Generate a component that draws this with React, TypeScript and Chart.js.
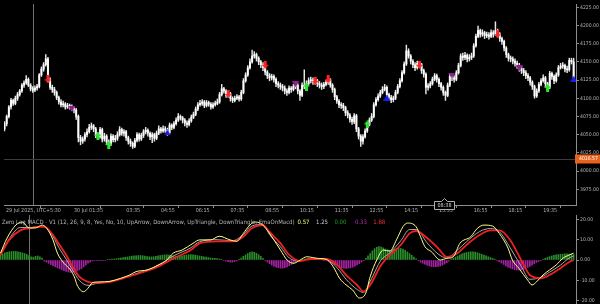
import { useEffect, useRef } from 'react';
import { Chart, registerables } from 'chart.js';
Chart.register(...registerables);

// ---------- price data (M5 bars, index 0 = 29 Jul 22:55) ----------
const firstOpen = 4058;
const closes = [
  4065,4075,4088,4097,4093,4100,4105,4110,4118,4121,
  4126,4118,4113,4111,4114,4116,4132,4140,4146,4154,
  4126,4115,4112,4108,4101,4095,4091,4092,4088,4090,
  4088,4086,4084,4075,4046,4041,4044,4050,4054,4060,
  4062,4058,4050,4047,4057,4044,4048,4040,4037,4048,
  4043,4045,4050,4057,4052,4054,4046,4041,4038,4034,
  4042,4050,4044,4049,4054,4056,4052,4047,4050,4045,
  4052,4058,4055,4058,4056,4053,4063,4060,4065,4070,
  4075,4073,4070,4066,4064,4069,4074,4078,4085,4091,
  4093,4095,4090,4094,4092,4088,4091,4093,4095,4105,
  4113,4110,4104,4106,4100,4097,4100,4102,4099,4108,
  4124,4132,4142,4150,4158,4160,4155,4150,4146,4142,
  4136,4131,4128,4130,4126,4120,4118,4116,4114,4110,
  4108,4114,4112,4116,4118,4110,4104,4118,4116,4120,
  4124,4125,4122,4124,4120,4118,4116,4119,4122,4125,
  4118,4112,4102,4096,4091,4090,4087,4080,4077,4071,
  4068,4076,4058,4048,4041,4047,4055,4064,4070,4075,
  4091,4098,4103,4108,4112,4115,4105,4101,4098,4100,
  4108,4116,4124,4135,4147,4165,4158,4151,4146,4142,
  4148,4146,4138,4133,4115,4117,4120,4126,4131,4126,
  4120,4115,4108,4104,4118,4130,4128,4126,4135,4145,
  4158,4156,4159,4154,4156,4158,4172,4185,4193,4188,
  4190,4186,4187,4185,4190,4188,4193,4188,4182,4178,
  4169,4160,4155,4154,4151,4148,4145,4141,4138,4135,
  4131,4128,4122,4116,4103,4110,4119,4124,4128,4120,
  4115,4134,4130,4124,4132,4142,4144,4145,4140,4139,
  4152,4150,4128,
];
const highs = [
  4068,4077,4090,4100,4099,4103,4108,4112,4120,4124,
  4131,4128,4120,4116,4117,4119,4134,4143,4149,4160,
  4156,4128,4118,4115,4110,4103,4098,4096,4094,4093,
  4092,4091,4089,4086,4077,4049,4047,4053,4058,4064,
  4066,4064,4060,4053,4060,4059,4052,4050,4043,4051,
  4050,4049,4054,4061,4059,4057,4056,4048,4044,4040,
  4045,4053,4052,4052,4057,4060,4058,4054,4053,4052,
  4055,4062,4060,4062,4061,4059,4066,4065,4068,4073,
  4079,4077,4075,4072,4069,4072,4077,4081,4088,4094,
  4097,4098,4097,4097,4096,4094,4094,4096,4099,4108,
  4119,4115,4112,4109,4108,4102,4103,4105,4104,4111,
  4127,4135,4145,4154,4166,4164,4162,4157,4152,4149,
  4144,4138,4134,4133,4132,4128,4123,4121,4119,4117,
  4113,4117,4116,4119,4122,4120,4112,4121,4139,4124,
  4128,4129,4128,4127,4126,4123,4121,4122,4125,4128,
  4127,4120,4114,4104,4098,4094,4093,4089,4083,4079,
  4074,4079,4078,4060,4050,4050,4058,4067,4073,4079,
  4094,4101,4106,4111,4116,4119,4117,4107,4104,4103,
  4111,4119,4127,4138,4150,4173,4168,4160,4153,4149,
  4151,4150,4148,4140,4135,4120,4123,4129,4134,4133,
  4128,4122,4117,4110,4121,4133,4134,4131,4138,4148,
  4161,4162,4163,4161,4160,4162,4175,4188,4199,4195,
  4194,4192,4191,4190,4194,4193,4205,4195,4190,4184,
  4180,4171,4162,4158,4157,4154,4151,4148,4144,4141,
  4138,4134,4130,4124,4118,4113,4122,4127,4132,4130,
  4122,4137,4136,4132,4135,4145,4148,4149,4147,4144,
  4155,4155,4155,
];
const lows = [
  4055,4062,4073,4085,4090,4091,4097,4103,4108,4115,
  4119,4116,4110,4108,4109,4111,4114,4130,4137,4144,
  4122,4112,4108,4104,4098,4092,4088,4088,4085,4086,
  4085,4083,4080,4071,4040,4036,4038,4041,4047,4052,
  4057,4054,4046,4043,4045,4040,4041,4036,4033,4035,
  4040,4040,4042,4048,4049,4048,4042,4037,4034,4031,
  4032,4040,4041,4042,4046,4051,4048,4043,4039,4041,
  4043,4050,4052,4053,4053,4049,4051,4057,4058,4063,
  4068,4070,4066,4062,4060,4062,4067,4072,4076,4083,
  4089,4090,4087,4088,4089,4085,4086,4089,4091,4093,
  4103,4107,4101,4101,4096,4094,4095,4098,4096,4097,
  4106,4122,4130,4140,4148,4155,4151,4146,4142,4138,
  4132,4127,4124,4125,4122,4116,4114,4112,4110,4106,
  4104,4106,4108,4110,4113,4106,4097,4102,4113,4114,
  4118,4121,4119,4119,4116,4114,4112,4113,4117,4119,
  4115,4108,4098,4093,4087,4086,4083,4076,4073,4067,
  4064,4065,4054,4044,4034,4037,4045,4053,4062,4068,
  4073,4089,4096,4101,4106,4110,4102,4097,4094,4095,
  4098,4106,4114,4122,4133,4145,4155,4147,4142,4138,
  4140,4142,4134,4129,4106,4111,4114,4118,4124,4122,
  4116,4111,4104,4097,4102,4116,4124,4122,4124,4133,
  4143,4152,4153,4150,4151,4153,4156,4170,4183,4184,
  4185,4182,4183,4181,4183,4184,4186,4184,4178,4174,
  4165,4156,4151,4150,4147,4144,4141,4137,4134,4131,
  4127,4124,4118,4112,4100,4101,4108,4117,4122,4116,
  4111,4113,4126,4120,4122,4130,4140,4141,4136,4135,
  4137,4147,4125,
];

// ---------- signal markers ----------
const redArrowIdx = [20, 103, 120, 143, 149, 191, 227];
const redArrowPrice = [4126, 4106, 4146, 4124, 4126, 4146, 4188];
const greenArrowIdx = [43, 48, 139, 167, 250];
const greenArrowPrice = [4048, 4036, 4116, 4064, 4114];
const magentaTriIdx = [31, 134, 206, 237];
const magentaTriPrice = [4085, 4119, 4131, 4141];
const blueTriIdx = [75, 176, 262];
const blueTriPrice = [4053, 4101, 4127];

const bidPrice = 4016.57;
const daySepIdx = 13;
const countdownIdx = 202.3;
const countdownText = '08:38';

// ---------- time axis ----------
const timeTickIdx = [0.7, 32, 56, 72, 88, 104, 120, 136, 152, 168, 184, 200, 216, 232, 248];
const timeTickLabels = ['29 Jul 2025, UTC+5:30', '30 Jul 01:35', '03:35', '04:55', '06:15', '07:35', '08:55', '10:15', '11:35', '12:55', '14:15', '15:35', '16:55', '18:15', '19:35'];

// ---------- Zero Lag MACD ----------
const macdIdx = [0,3,7,10,13,16,19,21,24,26,29,32,34,35,38,40,42,45,50,55,59,62,67,72,76,79,83,88,91,96,100,105,108,111,114,116,119,122,125,128,131,134,137,140,145,149,152,155,158,161,164,167,169,172,175,178,181,184,186,190,192,194,197,201,204,207,210,215,218,221,225,228,232,234,237,241,243,245,248,251,254,257,260,262];
const macdVals = [3.4,10.8,17.2,18.7,15.8,15.8,17.2,15.8,9.9,3.4,-1.6,-4.9,-9,-12.3,-15.6,-13.9,-11.2,-10.8,-10.5,-9,-7.4,-5.7,-4.9,-2.5,0,3.4,4.9,8.2,9.9,9.9,11.7,9.9,9.2,13.1,17.2,18.7,18,14.6,9.9,4.9,0,-1.6,0,1.6,0.8,0.3,-3.1,-9,-12.3,-14.8,-18.7,-16.3,-8.2,0,4.9,4.4,9.9,16.4,18.2,16.4,11.5,6.6,4.1,0,0.8,1.6,8.2,11.5,15.6,17.2,16.7,13.1,5.9,0,-4.1,-9.9,-12.3,-10.8,-7.4,-4.9,-2.5,0.8,2.5,3.4];
const sigIdx = [0,4,9,14,18,20,24,27,30,33,36,40,44,50,56,64,72,79,87,91,99,106,111,115,120,123,128,132,137,142,149,154,158,163,166,169,174,178,183,187,190,195,200,204,209,213,219,224,228,233,238,242,247,251,256,260,262];
const signalVals = [2.5,9.9,14.6,15.8,16.3,16.3,12.3,7.4,2.5,-3.3,-8.2,-10.8,-11.3,-10.8,-9,-6.4,-3.3,0.8,4.9,8.2,9.2,9.2,11.5,15.8,17.2,13.8,8.2,2.5,-0.5,0.5,0.5,-2.5,-7.4,-12.3,-15.6,-12.3,-2.5,2.5,7.4,13.1,14.3,10.8,5.9,1.5,3.4,7.4,12.3,14.6,14.6,9.9,0,-7.4,-9,-7.4,-4,-1,0];
const emaVals = [3.0,10.5,16.0,16.0,16.5,16.5,11.5,5.5,0.5,-5.0,-10.0,-12.5,-11.5,-10.7,-8.8,-6.0,-2.8,2.0,6.0,9.0,10.0,9.5,12.5,16.8,17.5,12.5,6.5,1.0,-0.5,0.8,0.4,-4.0,-9.5,-14.5,-16.0,-10.5,0.0,3.5,9.5,15.0,15.0,8.5,3.0,1.0,5.0,9.0,14.0,15.5,14.0,6.0,-3.0,-9.5,-8.5,-6.0,-2.5,1.0,2.0];
const histVals = [
  2.5,3.0,3.5,3.8,4.0,4.2,4.3,4.2,4.0,3.8,
  3.5,3.2,2.8,2.2,1.6,1.4,1.8,2.0,1.6,1.0,
  -0.5,-1.0,-1.6,-2.2,-2.8,-3.3,-3.8,-4.3,-4.8,-5.2,
  -5.6,-5.9,-6.1,-6.0,-5.8,-5.4,-4.9,-4.3,-3.4,-2.5,
  -1.6,-1.0,-0.5,-0.3,-0.2,-0.3,-0.2,-0.3,-0.2,0.2,
  0.3,0.4,0.5,0.6,0.8,1.0,1.2,1.4,1.5,1.7,
  1.9,2.0,2.1,2.2,2.2,2.1,1.9,1.7,1.6,1.5,
  1.6,1.8,2.0,2.2,2.4,2.5,2.6,2.4,2.2,2.0,
  1.9,1.8,1.9,2.1,2.3,2.5,2.6,2.7,2.6,2.4,
  2.2,2.0,1.8,1.6,1.4,1.2,1.0,0.9,0.8,0.7,
  0.5,0.3,-0.2,-0.5,-0.8,-1.0,-1.0,-0.8,-0.5,0.2,
  1.0,1.8,2.5,3.2,3.7,4.0,3.8,3.3,2.6,1.8,
  0.8,-0.3,-1.0,-1.8,-2.5,-3.0,-3.5,-3.8,-4.0,-4.0,
  -3.8,-3.4,-2.8,-2.2,-1.6,-1.0,-0.6,-0.3,0.3,0.5,
  0.6,0.5,0.4,0.3,0.2,0.3,0.2,0.1,-0.2,-0.4,
  -0.8,-1.3,-1.8,-2.4,-3.0,-3.5,-3.8,-4.0,-4.1,-4.0,
  -3.8,-3.5,-3.0,-2.4,-1.8,-1.0,-0.3,0.8,2.0,3.2,
  4.5,5.6,6.3,6.6,6.4,6.0,5.4,5.0,4.8,5.0,
  5.3,5.6,5.8,5.7,5.4,4.8,4.0,3.2,2.3,1.4,
  0.6,-0.3,-1.0,-1.6,-2.1,-2.6,-2.9,-3.2,-3.3,-3.3,
  -3.2,-3.0,-2.6,-2.0,-1.3,-0.6,0.2,0.8,1.4,2.0,
  2.5,3.0,3.4,3.7,3.9,4.0,4.0,3.9,3.6,3.2,
  2.8,2.4,2.0,1.6,1.2,0.8,0.4,-0.2,-0.8,-1.5,
  -2.2,-2.9,-3.5,-4.0,-4.4,-4.7,-4.9,-5.0,-4.9,-4.6,
  -4.2,-3.7,-3.1,-2.5,-1.8,-1.2,-0.7,-0.3,0.3,0.8,
  1.3,1.7,2.0,2.3,2.5,2.7,2.8,2.9,3.0,3.0,
  2.9,2.8,2.7,
];
const macdTitle = 'Zero Lag MACD - V1 (12, 26, 9, 8, Yes, No, 10, UpArrow, DownArrow, UpTriangle, DownTriangle, EmaOnMacd)';
const macdLegendValues = ['0.57', '1.25', '0.00', '-0.33', '1.88'];

// ---------- axis ranges ----------
const X_MIN = -0.23;
const X_MAX = 263.09;
const PRICE_MIN = 3953.4;
const PRICE_MAX = 4229.4;
const MACD_MIN = -21.67;
const MACD_MAX = 22.17;

// ---------- styles ----------
const TEXT = '#b4b4b4';
const AXIS = '#8c8c8c';
const legendColors = ['#ffff7a', '#c8c8c8', '#22a022', '#b030b0', '#ff3030'];

function pickFont() {
  const ctx = document.createElement('canvas').getContext('2d') as CanvasRenderingContext2D;
  const sample = '4225.00 Zero Lag MACD UTC';
  const cands = ['Liberation Sans Narrow', 'Arial Narrow', 'DejaVu Sans Condensed', 'Liberation Sans'];
  let family = 'sans-serif';
  for (const f of cands) {
    ctx.font = '20px monospace';
    const w0 = ctx.measureText(sample).width;
    ctx.font = `20px "${f}", monospace`;
    const w1 = ctx.measureText(sample).width;
    if (Math.abs(w1 - w0) > 0.5) { family = f; break; }
  }
  const fit = (text: string, target: number) => {
    ctx.font = `10px "${family}"`;
    return (10 * target) / ctx.measureText(text).width;
  };
  return {
    family,
    axis: Math.min(7.5, fit('4225.00', 19)),
    time: Math.min(7.5, fit(timeTickLabels[0], 55)),
    title: Math.min(7.5, fit(macdTitle, 293)),
  };
}

function makeArrow(color: string, up: boolean) {
  const c = document.createElement('canvas');
  c.width = 7; c.height = 8;
  const g = c.getContext('2d') as CanvasRenderingContext2D;
  g.fillStyle = color;
  g.beginPath();
  if (up) {
    g.moveTo(3.5, 0); g.lineTo(7, 4); g.lineTo(5, 4); g.lineTo(5, 8); g.lineTo(2, 8); g.lineTo(2, 4); g.lineTo(0, 4);
  } else {
    g.moveTo(2, 0); g.lineTo(5, 0); g.lineTo(5, 4); g.lineTo(7, 4); g.lineTo(3.5, 8); g.lineTo(0, 4); g.lineTo(2, 4);
  }
  g.closePath(); g.fill();
  return c;
}
function makeTri(color: string, up: boolean) {
  const c = document.createElement('canvas');
  c.width = 7; c.height = 6;
  const g = c.getContext('2d') as CanvasRenderingContext2D;
  g.fillStyle = color;
  g.beginPath();
  if (up) { g.moveTo(3.5, 0); g.lineTo(7, 6); g.lineTo(0, 6); }
  else { g.moveTo(0, 0); g.lineTo(7, 0); g.lineTo(3.5, 6); }
  g.closePath(); g.fill();
  return c;
}

export default function App() {
  const topRef = useRef<HTMLCanvasElement>(null);
  const botRef = useRef<HTMLCanvasElement>(null);

  useEffect(() => {
    document.body.style.margin = '0';
    document.body.style.background = '#000';
    const fonts = pickFont();
    Chart.defaults.font.family = fonts.family;
    Chart.defaults.color = TEXT;

    const opens = closes.map((_, i) => (i === 0 ? firstOpen : closes[i - 1]));
    const wickData = closes.map((_, i) => ({ x: i, y: [lows[i], highs[i]] }));
    const bodyData = closes.map((c, i) => ({ x: i, y: [Math.min(opens[i], c), Math.max(opens[i], c)] }));
    const pts = (idx: number[], vals: number[]) => idx.map((x, k) => ({ x, y: vals[k] }));

    const marker = (data: any[], img: HTMLCanvasElement) => ({
      type: 'line' as const,
      data,
      showLine: false,
      pointStyle: img,
      pointRadius: 3,
      pointHoverRadius: 3,
      order: 0,
    });

    const axisFont = { size: fonts.axis, lineHeight: 1 };
    const zeroPad = (s: any) => { s.paddingTop = 0; s.paddingBottom = 0; s.paddingLeft = 0; s.paddingRight = 0; };

    const topDecor = {
      id: 'topDecor',
      beforeDatasetsDraw(chart: any) {
        const { ctx, chartArea: a, scales } = chart;
        ctx.save();
        const x = Math.round(scales.x.getPixelForValue(daySepIdx)) + 0.5;
        ctx.strokeStyle = '#707070';
        ctx.lineWidth = 1;
        ctx.beginPath(); ctx.moveTo(x, a.top); ctx.lineTo(x, a.bottom); ctx.stroke();
        const yb = Math.round(scales.y.getPixelForValue(bidPrice)) + 0.5;
        ctx.strokeStyle = '#3c3c3c';
        ctx.beginPath(); ctx.moveTo(a.left, yb); ctx.lineTo(a.right, yb); ctx.stroke();
        ctx.restore();
      },
      afterDraw(chart: any) {
        const { ctx, chartArea: a, scales } = chart;
        ctx.save();
        const yb = scales.y.getPixelForValue(bidPrice);
        ctx.fillStyle = '#e8621e';
        ctx.fillRect(a.right - 1, Math.round(yb) - 4.5, 600 - a.right + 1, 9);
        ctx.fillStyle = '#ffffff';
        ctx.font = `${fonts.axis}px "${fonts.family}"`;
        ctx.textBaseline = 'middle';
        ctx.textAlign = 'left';
        ctx.fillText(bidPrice.toFixed(2), a.right + 3, Math.round(yb));
        const cx = Math.round(scales.x.getPixelForValue(countdownIdx));
        const w = 20, h = 8, top = a.bottom - 4;
        ctx.fillStyle = '#000';
        ctx.strokeStyle = '#b0b0b0';
        ctx.lineWidth = 1;
        ctx.beginPath();
        ctx.moveTo(cx - w / 2 + 0.5, top + 0.5);
        ctx.lineTo(cx - 3 + 0.5, top + 0.5);
        ctx.lineTo(cx + 0.5, top - 3 + 0.5);
        ctx.lineTo(cx + 3 + 0.5, top + 0.5);
        ctx.lineTo(cx + w / 2 + 0.5, top + 0.5);
        ctx.lineTo(cx + w / 2 + 0.5, top + h + 0.5);
        ctx.lineTo(cx - w / 2 + 0.5, top + h + 0.5);
        ctx.closePath();
        ctx.fill(); ctx.stroke();
        ctx.fillStyle = '#d8d8d8';
        ctx.font = `${fonts.time}px "${fonts.family}"`;
        ctx.textAlign = 'center';
        ctx.fillText(countdownText, cx + 0.5, top + h / 2 + 1);
        ctx.restore();
      },
    };

    const top = new Chart(topRef.current as HTMLCanvasElement, {
      type: 'bar',
      data: {
        datasets: [
          marker(pts(redArrowIdx, redArrowPrice), makeArrow('#ff2222', false)),
          marker(pts(greenArrowIdx, greenArrowPrice), makeArrow('#2ee62e', true)),
          marker(pts(magentaTriIdx, magentaTriPrice), makeTri('#8e1e8e', false)),
          marker(pts(blueTriIdx, blueTriPrice), makeTri('#1c1cf0', true)),
          { type: 'bar', data: bodyData as any, backgroundColor: '#ffffff', barThickness: 1.3, grouped: false, minBarLength: 1, borderWidth: 0, order: 1 } as any,
          { type: 'bar', data: wickData as any, backgroundColor: '#e6e6e6', barThickness: 0.8, grouped: false, borderWidth: 0, order: 2 } as any,
        ],
      },
      options: {
        animation: false,
        responsive: false,
        maintainAspectRatio: false,
        events: [],
        layout: { padding: 0 },
        plugins: { legend: { display: false }, tooltip: { enabled: false } },
        scales: {
          x: {
            type: 'linear',
            min: X_MIN,
            max: X_MAX,
            offset: false,
            afterBuildTicks: (s: any) => { s.ticks = timeTickIdx.map((v) => ({ value: v })); },
            afterFit: (s: any) => { s.height = 10; zeroPad(s); },
            grid: { display: true, drawOnChartArea: false, drawTicks: true, tickLength: 3, tickColor: AXIS },
            border: { display: true, color: AXIS },
            ticks: {
              autoSkip: false,
              maxRotation: 0,
              minRotation: 0,
              align: 'start',
              padding: 0,
              color: TEXT,
              font: { size: fonts.time, lineHeight: 1 },
              callback: (_v: any, i: number) => timeTickLabels[i],
            },
          } as any,
          y: {
            position: 'right',
            min: PRICE_MIN,
            max: PRICE_MAX,
            afterFit: (s: any) => { s.width = 24; zeroPad(s); },
            grid: { display: true, drawOnChartArea: false, drawTicks: true, tickLength: 3, tickColor: AXIS },
            border: { display: true, color: AXIS },
            ticks: {
              stepSize: 25,
              includeBounds: false,
              padding: 1,
              color: TEXT,
              font: axisFont,
              callback: (v: any) => Number(v).toFixed(2),
            },
          } as any,
        },
      },
      plugins: [topDecor],
    });

    const botDecor = {
      id: 'botDecor',
      beforeDatasetsDraw(chart: any) {
        const { ctx, chartArea: a, scales } = chart;
        ctx.save();
        const x = Math.round(scales.x.getPixelForValue(daySepIdx)) + 0.5;
        ctx.strokeStyle = '#707070';
        ctx.lineWidth = 1;
        ctx.beginPath(); ctx.moveTo(x, a.top); ctx.lineTo(x, a.bottom); ctx.stroke();
        ctx.restore();
      },
      afterDraw(chart: any) {
        const { ctx } = chart;
        ctx.save();
        ctx.font = `${fonts.title}px "${fonts.family}"`;
        ctx.textBaseline = 'middle';
        ctx.textAlign = 'left';
        ctx.fillStyle = TEXT;
        const y = 7;
        let x = 2;
        ctx.fillText(macdTitle, x, y);
        x += ctx.measureText(macdTitle).width + 3;
        macdLegendValues.forEach((t, k) => {
          ctx.fillStyle = legendColors[k];
          ctx.fillText(t, x, y);
          x += ctx.measureText(t).width + 6.5;
        });
        ctx.restore();
      },
    };

    const bot = new Chart(botRef.current as HTMLCanvasElement, {
      type: 'bar',
      data: {
        datasets: [
          { type: 'line', data: pts(macdIdx, macdVals), borderColor: '#ffff8a', borderWidth: 1, pointRadius: 0, cubicInterpolationMode: 'monotone', order: 0 } as any,
          { type: 'line', data: pts(sigIdx, signalVals), borderColor: '#ee2020', borderWidth: 1.8, pointRadius: 0, cubicInterpolationMode: 'monotone', order: 1 } as any,
          { type: 'line', data: pts(sigIdx, emaVals), borderColor: '#a8a8a8', borderWidth: 1, pointRadius: 0, cubicInterpolationMode: 'monotone', order: 2 } as any,
          {
            type: 'bar',
            data: histVals.map((v, i) => ({ x: i, y: v })),
            backgroundColor: histVals.map((v) => (v >= 0 ? '#2a8c2a' : '#a422a4')),
            barThickness: 1,
            borderWidth: 0,
            order: 3,
          } as any,
        ],
      },
      options: {
        animation: false,
        responsive: false,
        maintainAspectRatio: false,
        events: [],
        layout: { padding: 0 },
        plugins: { legend: { display: false }, tooltip: { enabled: false } },
        scales: {
          x: { type: 'linear', min: X_MIN, max: X_MAX, offset: false, display: false } as any,
          y: {
            position: 'right',
            min: MACD_MIN,
            max: MACD_MAX,
            afterFit: (s: any) => { s.width = 24; zeroPad(s); },
            grid: { display: true, drawOnChartArea: false, drawTicks: true, tickLength: 3, tickColor: AXIS },
            border: { display: true, color: AXIS },
            ticks: {
              stepSize: 10,
              includeBounds: false,
              padding: 1,
              color: TEXT,
              font: axisFont,
              callback: (v: any) => Number(v).toFixed(2),
            },
          } as any,
        },
      },
      plugins: [botDecor],
    });

    return () => { top.destroy(); bot.destroy(); };
  }, []);

  return (
    <div style={{ width: 600, height: 304, background: '#000', overflow: 'hidden' }}>
      <canvas ref={topRef} width={600} height={215} style={{ display: 'block' }} />
      <canvas ref={botRef} width={600} height={89} style={{ display: 'block' }} />
    </div>
  );
}
